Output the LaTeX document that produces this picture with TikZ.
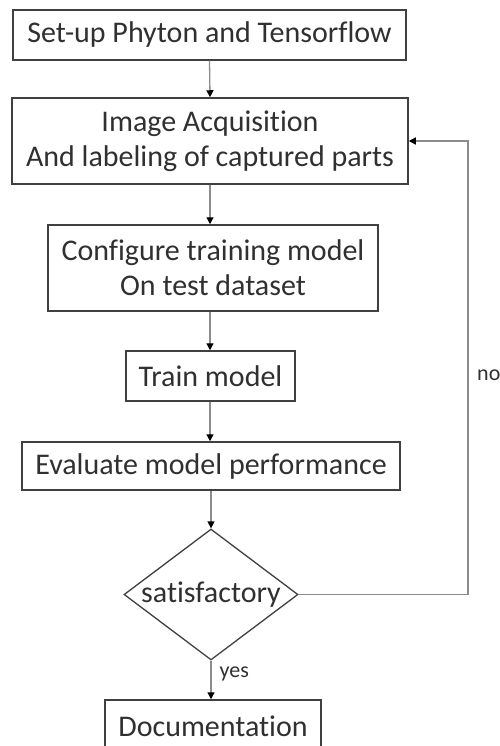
\documentclass[tikz,border=0pt]{standalone}
\usepackage{fontspec}
\setmainfont{Carlito}[Ligatures=NoCommon]
\usetikzlibrary{arrows.meta,shapes.geometric}
\definecolor{boxline}{HTML}{404040}
\definecolor{arrline}{HTML}{8C8C8C}
\definecolor{txt}{HTML}{303030}
\tikzset{
  procbox/.style={draw=boxline, line width=1.5pt, rectangle, inner sep=0pt, align=center, text=txt,
    font=\fontsize{30}{35}\selectfont},
  decbox/.style={draw=boxline, line width=1.3pt, diamond, inner sep=0pt},
  flow/.style={draw=arrline, line width=1.3pt, -{Triangle[width=7pt,length=7pt,black]}},
  smalllab/.style={text=txt, font=\fontsize{22}{24}\selectfont, inner sep=0pt}
}
\begin{document}
\begin{tikzpicture}[x=1pt,y=-1pt]
\useasboundingbox (0,0) rectangle (499,746);
\clip (0,0) rectangle (499,746);
\node[procbox, minimum width=393pt, minimum height=50pt] (b1) at (209.5,35) {Set-up Phyton and Tensorflow};
\node[procbox, minimum width=396pt, minimum height=86pt] (b2) at (210,141) {Image Acquisition\\And labeling of captured parts};
\node[procbox, minimum width=330pt, minimum height=86pt] (b3) at (213,268) {Configure training model\\On test dataset};
\node[procbox, minimum width=169pt, minimum height=50pt] (b4) at (210.5,376) {Train model};
\node[procbox, minimum width=378pt, minimum height=48pt] (b5) at (211,466) {Evaluate model performance};
\node[decbox, minimum width=174pt, minimum height=131pt] (dec) at (211,594.5) {};
\node[text=txt, font=\fontsize{30}{35}\selectfont, inner sep=0pt] (dectext) at (211,595) {satisfactory};
\node[procbox, minimum width=216pt, minimum height=52pt] (b6) at (213,726) {Documentation};
\coordinate (loop) at (468,594.5);
\draw[flow] (b1.south) -- (b2.north);
\draw[flow] (b2.south) -- (b3.north-|b2.south);
\draw[flow] (b3.south-|b2.south) -- (b4.north-|b2.south);
\draw[flow] (b4.south-|b2.south) -- (b5.north-|b2.south);
\draw[flow] (b5.south-|dec.north) -- (dec.north);
\draw[flow] (dec.south) -- (b6.north-|dec.south) node[pos=0.35, right=8pt, smalllab] (yes) {yes};
\draw[flow] (dec.east) -- (loop) |- (b2.east);
\node[smalllab, anchor=west] (no) at (477,375) {no};
\end{tikzpicture}
\end{document}
